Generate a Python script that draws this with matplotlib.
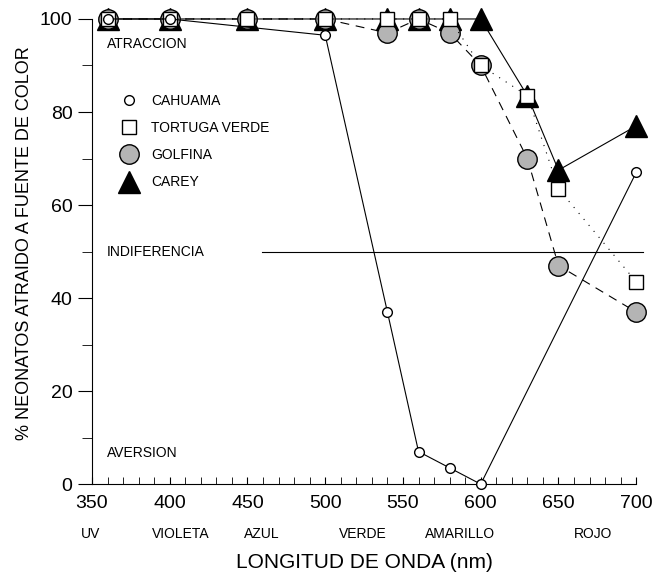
import matplotlib
matplotlib.use('Agg')
from matplotlib import pyplot as plt
from matplotlib.lines import Line2D
from matplotlib.ticker import MultipleLocator
import matplotlib.transforms as mtransforms

plt.rcParams['font.family'] = ['Liberation Sans', 'DejaVu Sans']

########
# DATA #
########

# Longitud de onda (nm) and % neonatos atraidos, per species
cahuama_x = [360, 400, 500, 540, 560, 580, 600, 700]
cahuama_y = [100, 100, 96.5, 37, 7, 3.5, 0, 67]

tortuga_x = [360, 400, 450, 500, 540, 560, 580, 600, 630, 650, 700]
tortuga_y = [100, 100, 100, 100, 100, 100, 100, 90, 83.5, 63.5, 43.5]

golfina_x = [360, 400, 450, 500, 540, 560, 580, 600, 630, 650, 700]
golfina_y = [100, 100, 100, 100, 97, 100, 97, 90, 70, 47, 37]

carey_x = [360, 400, 450, 500, 540, 560, 580, 600, 630, 650, 700]
carey_y = [100, 100, 100, 100, 100, 100, 100, 100, 83.5, 67.5, 77]

indiferencia = 50

color_names = ['UV', 'VIOLETA', 'AZUL', 'VERDE', 'AMARILLO', 'ROJO']
color_pos = [349, 407, 459, 524, 587, 672]

GRAY = '#b4b4b4'

fig = plt.figure(figsize=(6.62, 5.75), dpi=100)
ax = fig.add_axes([0.139, 0.158, 0.822, 0.809])

# z-order: triangles under circles under squares under small circles
ax.plot(carey_x, carey_y, '-', color='k', lw=0.8, marker='^', ms=16,
        mfc='k', mec='k', clip_on=False, zorder=3)
ax.plot(golfina_x, golfina_y, color='k', lw=0.8, ls=(0, (8, 6)),
        marker='o', ms=14, mfc=GRAY, mec='k', mew=1.0,
        clip_on=False, zorder=4)
ax.plot(tortuga_x, tortuga_y, color='k', lw=0.8, ls=(0, (1, 6)),
        marker='s', ms=10, mfc='white', mec='k', mew=1.0,
        clip_on=False, zorder=5)
ax.plot(cahuama_x, cahuama_y, '-', color='k', lw=0.8, marker='o', ms=7,
        mfc='white', mec='k', mew=1.0, clip_on=False, zorder=6)

# Indiferencia reference line
ax.axhline(indiferencia, xmin=0.3125, xmax=1.013, color='k', lw=0.8,
           clip_on=False, zorder=2)

ax.text(359.6, 94.6, 'ATRACCION', fontsize=10, va='center', ha='left')
ax.text(359.6, indiferencia, 'INDIFERENCIA', fontsize=10, va='center',
        ha='left')
ax.text(359.6, 6.7, 'AVERSION', fontsize=10, va='center', ha='left')

# Legend
handles = [
    Line2D([], [], ls='none', marker='o', ms=7, mfc='white', mec='k'),
    Line2D([], [], ls='none', marker='s', ms=10, mfc='white', mec='k'),
    Line2D([], [], ls='none', marker='o', ms=14, mfc=GRAY, mec='k'),
    Line2D([], [], ls='none', marker='^', ms=16, mfc='k', mec='k'),
]
labels = ['CAHUAMA', 'TORTUGA VERDE', 'GOLFINA', 'CAREY']
ax.legend(handles, labels, loc='upper left', bbox_to_anchor=(0.048, 0.839),
          frameon=False, fontsize=10, handlelength=1.6, handletextpad=0.8,
          labelspacing=0.95, borderpad=0, borderaxespad=0)

# Axes
ax.set_xlim(350, 700)
ax.set_ylim(0, 100)
ax.spines['top'].set_visible(False)
ax.spines['right'].set_visible(False)
ax.xaxis.set_major_locator(MultipleLocator(50))
ax.xaxis.set_minor_locator(MultipleLocator(10))
ax.yaxis.set_major_locator(MultipleLocator(20))
ax.yaxis.set_minor_locator(MultipleLocator(10))
ax.tick_params(axis='x', which='both', direction='in', length=5,
               labelsize=14, pad=8)
ax.tick_params(axis='y', which='major', direction='out', length=10,
               labelsize=14, pad=4)
ax.tick_params(axis='y', which='minor', direction='out', length=7)

# colour band names under the tick labels
trans = mtransforms.blended_transform_factory(ax.transData, fig.transFigure)
for name, xpos in zip(color_names, color_pos):
    ax.text(xpos, 1 - 534/575., name, fontsize=10, ha='center', va='center',
            transform=trans)

fig.text(0.5 + (92 + 544/2. - 331)/662., 1 - 563/575., 'LONGITUD DE ONDA (nm)',
         fontsize=15, ha='center', va='center')
fig.text(25/662., 1 - 243/575., '% NEONATOS ATRAIDO A FUENTE DE COLOR',
         fontsize=13, rotation=90, ha='center', va='center')

plt.savefig('out.png', dpi=100)
plt.close()
